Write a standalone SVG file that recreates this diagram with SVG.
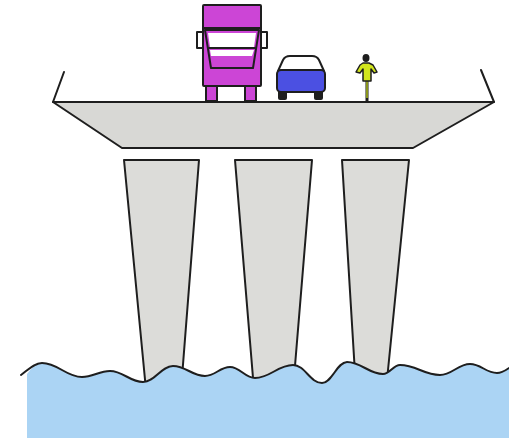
<svg xmlns="http://www.w3.org/2000/svg" width="509" height="440" viewBox="0 0 509 440">
  <style>
    .ink { stroke: #1e1e1e; stroke-width: 2; stroke-linejoin: round; stroke-linecap: round; }
    .concrete { fill: #d8d8d5; }
    .pier { fill: #dcdcd9; }
    .truck { fill: #cc45d6; }
    .car { fill: #4b50e2; }
    .rider { fill: #d2e61c; }
    .water { fill: #abd4f4; }
  </style>
  <rect width="509" height="440" fill="#ffffff"/>

  <!-- piers (bottoms hidden under water) -->
  <g id="piers">
    <polygon id="pier-1" class="pier ink" points="124,160 199,160 181,390 146,390"/>
    <polygon id="pier-2" class="pier ink" points="235,160 312,160 293,390 254,390"/>
    <polygon id="pier-3" class="pier ink" points="342,160 409,160 386,390 356,390"/>
  </g>

  <!-- water body -->
  <g id="water">
    <path class="water" d="M27,374 C30,370 36,363 42,363 C58,363 66,377 82,377 C93,377 99,371 110,371 C123,371 130,382 143,382 C155,382 161,366 173,366 C186,366 192,376 205,376 C215,376 220,367 230,367 C240,367 245,378 255,378 C270,378 278,365 293,365 C305,365 310,383 322,383 C332,383 337,362 347,362 C361,362 369,374 383,374 C390,374 393,365 400,365 C416,365 424,375 440,375 C452,375 458,364 470,364 C481,364 486,373 497,373 C502,373 506,370 509,368 L509,438 L27,438 Z"/>
    <path class="ink" fill="none" d="M21,375 C28,370 34,363 42,363 C58,363 66,377 82,377 C93,377 99,371 110,371 C123,371 130,382 143,382 C155,382 161,366 173,366 C186,366 192,376 205,376 C215,376 220,367 230,367 C240,367 245,378 255,378 C270,378 278,365 293,365 C305,365 310,383 322,383 C332,383 337,362 347,362 C361,362 369,374 383,374 C390,374 393,365 400,365 C416,365 424,375 440,375 C452,375 458,364 470,364 C481,364 486,373 497,373 C502,373 506,370 509,368"/>
  </g>

  <!-- bridge deck with railings -->
  <g id="deck">
    <polygon class="concrete ink" points="53,102 494,102 413,148 122,148"/>
    <line class="ink" x1="53" y1="102" x2="64" y2="72"/>
    <line class="ink" x1="494" y1="102" x2="481" y2="70"/>
  </g>

  <!-- lorry -->
  <g id="truck">
    <rect class="truck ink" x="206" y="84" width="11" height="17"/>
    <rect class="truck ink" x="245" y="84" width="11" height="17"/>
    <rect x="197" y="32" width="6" height="16" fill="#ffffff" class="ink"/>
    <rect x="261" y="32" width="6" height="16" fill="#ffffff" class="ink"/>
    <rect class="truck ink" x="203" y="5" width="58" height="81" rx="1"/>
    <line class="ink" x1="203" y1="28" x2="261" y2="28"/>
    <path class="truck ink" d="M205,30 L259,30 L253,68 L211,68 Z"/>
    <polygon points="208,33 256,33 254,47 210,47" fill="#ffffff"/>
    <line class="ink" x1="209" y1="48" x2="255" y2="48"/>
    <polygon points="210,50 254,50 252,56 211,56" fill="#ffffff"/>
  </g>

  <!-- car -->
  <g id="car">
    <rect x="278" y="89" width="9" height="11" rx="2" fill="#1e1e1e"/>
    <rect x="314" y="89" width="9" height="11" rx="2" fill="#1e1e1e"/>
    <path class="ink" fill="#ffffff" d="M278,71 L283,60 Q285,56 290,56 L312,56 Q317,56 319,60 L324,71 Z"/>
    <rect class="car ink" x="277" y="70" width="48" height="22" rx="4"/>
  </g>

  <!-- cyclist -->
  <g id="cyclist">
    <line x1="367" y1="78" x2="367" y2="101" stroke="#1e1e1e" stroke-width="3" stroke-linecap="round"/>
    <line x1="367" y1="80" x2="367" y2="98" stroke="#d2e61c" stroke-width="1.2"/>
    <path class="rider" stroke="#1e1e1e" stroke-width="1.5" stroke-linejoin="round" d="M356,72 L360,65 L363,63 L369,63 L373,65 L377,72 L374,73 L371,69 L371,81 L363,81 L363,69 L360,73 Z"/>
    <ellipse cx="366" cy="58" rx="3.5" ry="4" fill="#1e1e1e"/>
  </g>
</svg>
